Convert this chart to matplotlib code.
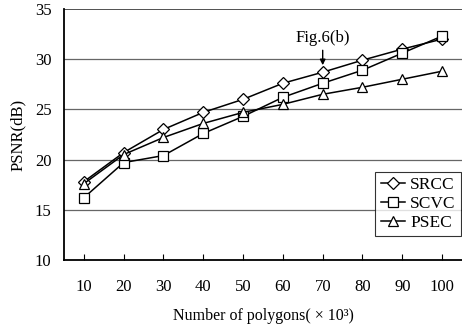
import matplotlib
matplotlib.use("Agg")
import matplotlib.pyplot as plt

polygons = [10, 20, 30, 40, 50, 60, 70, 80, 90, 100]
srcc = [17.8, 20.7, 23.0, 24.7, 26.0, 27.6, 28.7, 29.9, 31.0, 32.0]
scvc = [16.2, 19.7, 20.4, 22.6, 24.3, 26.2, 27.6, 28.9, 30.6, 32.3]
psec = [17.6, 20.5, 22.2, 23.6, 24.7, 25.5, 26.5, 27.2, 28.0, 28.8]
series = [("SRCC", srcc, "D"), ("SCVC", scvc, "s"), ("PSEC", psec, "^")]

plt.rcParams["font.family"] = ["Liberation Serif", "DejaVu Serif"]

fig = plt.figure(figsize=(4.62, 3.32), dpi=100)
ax = fig.add_axes([0.1385, 0.217, 0.8615, 0.756])

pos = list(range(len(polygons)))
for name, values, marker in series:
    ms = 6.5 if marker == "D" else 7.5
    ax.plot(pos, values, color="black", lw=1.1, marker=marker, ms=ms,
            mfc="white", mec="black", mew=0.9, label=name)

ax.set_xlim(-0.5, len(polygons) - 0.5)
ax.set_ylim(10, 35)
ax.set_yticks([10, 15, 20, 25, 30, 35])
ax.set_xticks(pos)
ax.set_xticklabels([str(p) for p in polygons])
ax.tick_params(axis="x", direction="in", length=4, pad=14, labelsize=12)
ax.tick_params(axis="y", length=0, pad=9, labelsize=12)

for y in [15, 20, 25, 30]:
    ax.axhline(y, color="#666666", lw=0.9, zorder=0)
ax.axhline(35, color="#333333", lw=1.2, zorder=0)

ax.spines["top"].set_visible(False)
ax.spines["right"].set_visible(False)
ax.spines["left"].set_linewidth(1.3)
ax.spines["bottom"].set_linewidth(1.3)

ax.set_ylabel("PSNR(dB)", fontsize=12, labelpad=6)
ax.set_xlabel("Number of polygons( \u00d7 10\u00b3)", fontsize=11.5, labelpad=9)

ax.annotate("Fig.6(b)", xy=(6, 29.4), xytext=(6, 31.3), ha="center", va="bottom",
            fontsize=12,
            arrowprops=dict(arrowstyle="-|>", color="black", lw=1.0,
                            mutation_scale=8, shrinkA=1, shrinkB=0))

leg = ax.legend(loc="lower right", bbox_to_anchor=(0.997, 0.096), fontsize=12.5,
                frameon=True, fancybox=False, handlelength=1.4, handletextpad=0.3,
                borderpad=0.3, labelspacing=0.15, borderaxespad=0)
leg.get_frame().set_edgecolor("black")
leg.get_frame().set_linewidth(0.8)

fig.savefig("out.png", dpi=100)
